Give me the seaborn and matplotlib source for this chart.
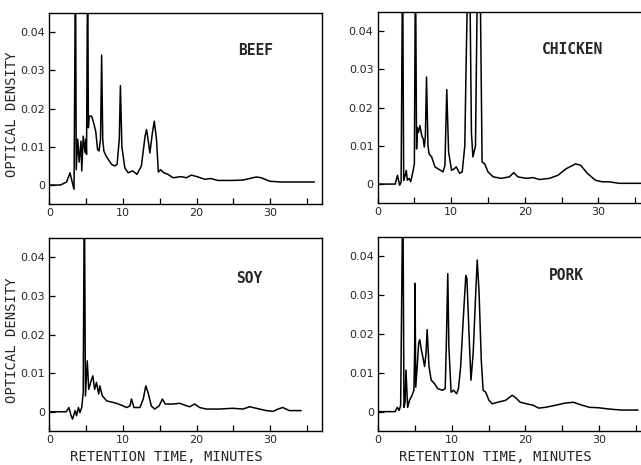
import matplotlib
matplotlib.use("Agg")
import matplotlib.pyplot as plt
import seaborn as sns

# data: retention time (min) and optical density
beef_t = [0, 1.5, 2.35, 2.8, 3.1, 3.35, 3.55, 3.65, 3.85, 4.05, 4.3, 4.4, 4.6, 4.85, 4.95, 5.05,
          5.2, 5.3, 5.4, 5.75, 6.05, 6.3, 6.55, 6.75, 6.95, 7.1, 7.25, 7.4, 7.7, 8.0, 8.45, 8.9,
          9.2, 9.5, 9.65, 9.85, 10.25, 10.7, 11.3, 11.9, 12.5, 13.0, 13.2, 13.4, 13.65, 14.0,
          14.25, 14.55, 14.8, 15.1, 15.55, 16.1, 16.8, 17.9, 18.6, 19.3, 20.2, 21.1, 21.9, 22.9,
          24.9, 26.3, 28.1, 28.8, 29.9, 31.3, 36.0]
beef_od = [0, 0, 0.0008, 0.0032, 0.0008, -0.0011, 0.06, 0.004, 0.012, 0.006, 0.0115, 0.0037,
           0.0128, 0.0085, 0.012, 0.008, 0.06, 0.015, 0.018, 0.018, 0.016, 0.014, 0.0093, 0.0089,
           0.012, 0.034, 0.012, 0.0089, 0.0076, 0.0067, 0.0054, 0.005, 0.0054, 0.012, 0.026,
           0.010, 0.0045, 0.0032, 0.0037, 0.0028, 0.005, 0.0128, 0.0145, 0.012, 0.0084, 0.0137,
           0.0167, 0.012, 0.0034, 0.004, 0.0032, 0.0028, 0.0019, 0.0022, 0.0019, 0.0026, 0.0021,
           0.0015, 0.0017, 0.0012, 0.0012, 0.0013, 0.0021, 0.0019, 0.001, 0.0008, 0.0008]

chicken_t = [0, 2.4, 2.7, 3.0, 3.2, 3.4, 3.55, 3.75, 3.9, 4.05, 4.3, 4.5, 4.8, 5.0, 5.15, 5.3,
             5.4, 5.55, 5.75, 6.0, 6.2, 6.35, 6.5, 6.65, 6.85, 7.0, 7.35, 7.8, 8.55, 8.9, 9.15,
             9.4, 9.65, 10.05, 10.4, 10.7, 11.15, 11.5, 11.85, 12.0, 12.3, 12.5, 12.75, 12.95,
             13.3, 13.6, 13.9, 14.2, 14.55, 15.0, 15.7, 16.8, 17.9, 18.5, 19.05, 20.2, 21.1,
             22.0, 23.35, 24.5, 25.6, 26.9, 27.6, 28.5, 29.6, 30.5, 31.45, 32.8, 36.5]
chicken_od = [0, 0, 0.0023, -0.0003, 0.0005, 0.06, 0.001, 0.0023, 0.0036, 0.001, 0.0015,
              0.0006, 0.0032, 0.0053, 0.06, 0.0092, 0.0148, 0.0135, 0.0153, 0.0127, 0.0118,
              0.0097, 0.0127, 0.028, 0.010, 0.0079, 0.0071, 0.0045, 0.0036, 0.0032, 0.0049,
              0.0247, 0.0084, 0.0036, 0.004, 0.0045, 0.0028, 0.0032, 0.010, 0.028, 0.06, 0.06,
              0.0135, 0.0071, 0.010, 0.06, 0.06, 0.0058, 0.0053, 0.0032, 0.0019, 0.0015, 0.0019,
              0.003, 0.0019, 0.0015, 0.0017, 0.0012, 0.0015, 0.0023, 0.004, 0.0053, 0.0049,
              0.0028, 0.001, 0.0006, 0.0006, 0.0002, 0.0002]

soy_t = [0, 2.3, 2.65, 2.95, 3.15, 3.5, 3.7, 3.95, 4.15, 4.4, 4.6, 4.75, 4.9, 5.15, 5.35, 5.6,
         5.9, 6.15, 6.4, 6.7, 6.85, 7.2, 7.8, 8.7, 9.1, 9.8, 10.5, 10.95, 11.15, 11.5, 12.3,
         12.75, 13.1, 13.4, 13.85, 14.3, 14.9, 15.35, 15.75, 16.8, 17.7, 18.4, 19.05, 19.75,
         20.4, 21.3, 23.1, 24.9, 26.3, 27.2, 28.55, 29.45, 30.4, 31.05, 31.7, 32.6, 34.2]
soy_od = [0, 0, 0.0011, -0.001, -0.0019, 0.0003, -0.001, 0.0011, -0.0002, 0.0011, 0.005, 0.06,
          0.0041, 0.0132, 0.0058, 0.0076, 0.0093, 0.0058, 0.0076, 0.0046, 0.0067, 0.0041,
          0.0028, 0.0024, 0.0022, 0.0017, 0.0011, 0.0015, 0.0033, 0.0011, 0.0011, 0.0033,
          0.0067, 0.005, 0.0015, 0.0007, 0.0015, 0.0033, 0.002, 0.002, 0.0022, 0.0017, 0.0013,
          0.002, 0.0011, 0.0007, 0.0007, 0.0009, 0.0007, 0.0013, 0.0007, 0.0003, 0.0001,
          0.0007, 0.0011, 0.0003, 0.0003]

pork_t = [0, 2.3, 2.6, 2.85, 3.05, 3.35, 3.5, 3.65, 3.77, 4.0, 4.25, 4.6, 4.85, 4.95, 5.0, 5.1,
          5.3, 5.5, 5.65, 5.85, 6.05, 6.3, 6.5, 6.65, 6.9, 7.2, 7.65, 8.1, 8.75, 9.1, 9.25, 9.45,
          9.6, 9.9, 10.25, 10.65, 10.9, 11.2, 11.55, 11.9, 12.05, 12.35, 12.6, 12.9, 13.25,
          13.45, 13.7, 14.0, 14.25, 14.6, 15.05, 15.5, 16.2, 17.3, 18.2, 18.6, 19.3, 20.2, 21.1,
          21.8, 22.7, 24.0, 25.4, 26.5, 27.6, 28.7, 29.9, 31.2, 33.0, 35.3]
pork_od = [0, 0, 0.0011, 0.0003, 0.0016, 0.06, 0.0011, 0.0024, 0.0107, 0.0011, 0.0029, 0.0042,
           0.0055, 0.015, 0.033, 0.0063, 0.0116, 0.0177, 0.0185, 0.016, 0.0142, 0.0116, 0.015,
           0.0211, 0.0116, 0.0081, 0.0072, 0.0059, 0.0055, 0.0059, 0.0168, 0.0355, 0.0168,
           0.005, 0.0055, 0.0046, 0.0059, 0.0116, 0.0237, 0.035, 0.0342, 0.0194, 0.0081, 0.015,
           0.0307, 0.039, 0.0307, 0.0133, 0.0055, 0.005, 0.0029, 0.002, 0.0024, 0.0029, 0.0042,
           0.0037, 0.0024, 0.002, 0.0016, 0.0009, 0.0011, 0.0016, 0.0022, 0.0024, 0.0017,
           0.0011, 0.001, 0.0007, 0.0004, 0.0004]

panel_names = ['BEEF', 'CHICKEN', 'SOY', 'PORK']
y_ticks = [0, 0.01, 0.02, 0.03, 0.04]
y_tick_labels = ['0', '0.01', '0.02', '0.03', '0.04']
x_ticks = [0, 5, 10, 15, 20, 25, 30, 35]
x_tick_labels = ['0', '', '10', '', '20', '', '30', '']

sns.set_style("ticks")
plt.rcParams['font.family'] = ['DejaVu Sans']

fig = plt.figure(figsize=(6.41, 4.65), dpi=100)

# axes boxes [left, bottom, width, height] in figure fractions, label position
boxes = [
    ([0.077, 0.561, 0.425, 0.411], (0.757, 0.806)),
    ([0.589, 0.563, 0.425, 0.411], (0.714, 0.806)),
    ([0.077, 0.073, 0.425, 0.415], (0.735, 0.788)),
    ([0.590, 0.073, 0.425, 0.418], (0.692, 0.800)),
]
traces = [(beef_t, beef_od), (chicken_t, chicken_od), (soy_t, soy_od), (pork_t, pork_od)]

for i, (name, (box, lab), (t, od)) in enumerate(zip(panel_names, boxes, traces)):
    ax = fig.add_axes(box)
    sns.lineplot(x=t, y=od, sort=False, estimator=None, color='black', lw=1.1, ax=ax)
    ax.set_xlim(0, 37)
    ax.set_ylim(-0.005, 0.045)
    ax.set_xticks(x_ticks)
    ax.set_xticklabels(x_tick_labels)
    ax.set_yticks(y_ticks)
    ax.set_yticklabels(y_tick_labels)
    ax.tick_params(direction='in', length=4, width=0.9, labelsize=8, pad=3, color='black')
    for s in ax.spines.values():
        s.set_visible(True)
        s.set_linewidth(1.0)
        s.set_color('black')
    ax.text(lab[0], lab[1], name, transform=ax.transAxes, ha='center', va='center',
            fontsize=10.5, fontweight='bold', family='DejaVu Sans Mono')
    if i % 2 == 0:
        ax.set_ylabel('OPTICAL DENSITY', family='DejaVu Sans Mono', fontsize=10)
        ax.yaxis.set_label_coords(-0.112, 0.47)
    else:
        ax.set_ylabel('')
    if i >= 2:
        ax.set_xlabel('RETENTION TIME, MINUTES', family='DejaVu Sans Mono', fontsize=10)
        ax.xaxis.set_label_coords(0.43, -0.1)

fig.savefig('out.png', dpi=100)
